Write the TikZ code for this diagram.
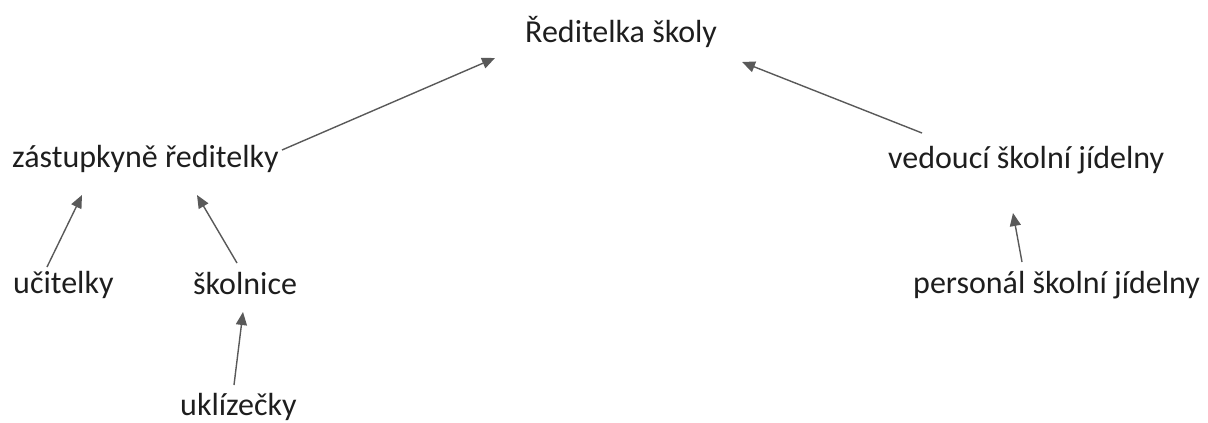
\documentclass[tikz,border=0pt]{standalone}
\usepackage{fontspec}
\setmainfont{Carlito}
\usepackage{xcolor}
\usetikzlibrary{arrows.meta}

\definecolor{linegray}{HTML}{595959}
\definecolor{textgray}{HTML}{1E1E1E}

\begin{document}
\begin{tikzpicture}[x=1pt, y=-1pt,
		role/.style={anchor=base west, inner sep=0pt, text=textgray, font=\fontsize{32}{38}\selectfont},
		link/.style={draw=linegray, line width=1.4pt, -{Triangle[length=13pt, width=11pt]}}]
	\useasboundingbox (0,0) rectangle (1208,423);
	% staff
	\node[role] (reditelka) at (525,42) {Ředitelka školy};
	\node[role] (zastupkyne) at (12,167) {zástupkyně ředitelky};
	\node[role] (vedouci) at (888,168) {vedoucí školní jídelny};
	\node[role] (ucitelky) at (13,293) {učitelky};
	\node[role] (skolnice) at (193,294) {školnice};
	\node[role] (uklizecky) at (180,415) {uklízečky};
	\node[role] (personal) at (913,293) {personál školní jídelny};
	% who reports to whom
	\draw[link] ([shift={(270,-17)}]zastupkyne.base west) -- ([shift={(-30,16)}]reditelka.base west);
	\draw[link] ([shift={(34,-35)}]vedouci.base west) -- ([shift={(217,20)}]reditelka.base west);
	\draw[link] ([shift={(34,-26)}]ucitelky.base west) -- ([shift={(70,28)}]zastupkyne.base west);
	\draw[link] ([shift={(44,-31)}]skolnice.base west) -- ([shift={(185,28)}]zastupkyne.base west);
	\draw[link] ([shift={(54,-30)}]uklizecky.base west) -- ([shift={(50,18)}]skolnice.base west);
	\draw[link] ([shift={(109,-31)}]personal.base west) -- ([shift={(125,45)}]vedouci.base west);
\end{tikzpicture}
\end{document}
